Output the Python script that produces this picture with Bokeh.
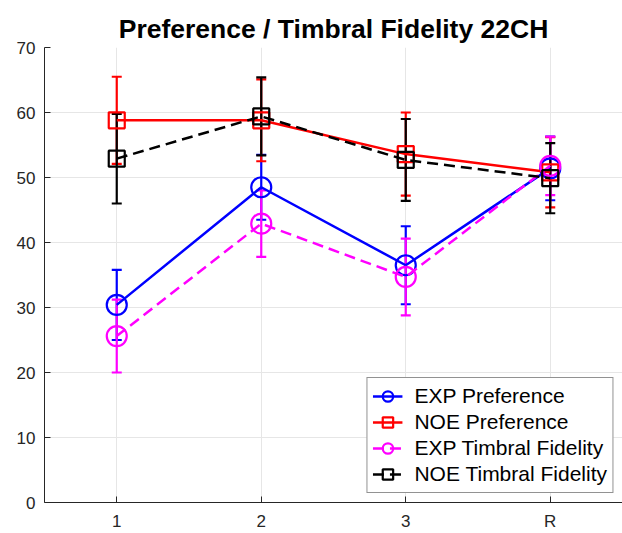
from bokeh.plotting import figure
from bokeh.models import ColumnDataSource, Whisker, TeeHead, FixedTicker, Legend, LegendItem, Range1d
from bokeh.embed import file_html
from bokeh.resources import INLINE

conditions = ["1", "2", "3", "R"]
x_pos = [1, 2, 3, 4]

exp_pref = [30.4, 48.5, 36.5, 51.4]
exp_pref_err = [5.4, 5.0, 6.0, 4.9]
noe_pref = [58.8, 58.8, 53.6, 50.8]
noe_pref_err = [6.7, 6.3, 6.4, 5.4]
exp_timb = [25.6, 42.9, 34.7, 51.8]
exp_timb_err = [5.6, 5.1, 5.9, 4.5]
noe_timb = [52.9, 59.4, 52.7, 49.9]
noe_timb_err = [6.9, 6.0, 6.3, 5.4]

FONT = "Liberation Sans"
AX = "#262626"

p = figure(width=622, height=533, output_backend="svg", toolbar_location=None,
           x_range=Range1d(0.5, 4.5), y_range=Range1d(0, 70),
           min_border_left=44, min_border_right=0, min_border_top=47, min_border_bottom=30)
p.title.text = "Preference / Timbral Fidelity 22CH"
p.title.align = "center"
p.title.text_font = FONT
p.title.text_font_size = "26.5px"
p.title.text_font_style = "bold"
p.title.text_color = "black"
p.title.standoff = 8

p.xaxis.ticker = FixedTicker(ticks=x_pos)
p.xaxis.major_label_overrides = {x: c for x, c in zip(x_pos, conditions)}
p.yaxis.ticker = FixedTicker(ticks=list(range(0, 71, 10)))
for ax in (p.xaxis, p.yaxis):
    ax.major_tick_in = 6
    ax.major_tick_out = 0
    ax.minor_tick_in = 0
    ax.minor_tick_out = 0
    ax.axis_line_color = AX
    ax.major_tick_line_color = AX
    ax.major_label_text_font = FONT
    ax.major_label_text_font_size = "17px"
    ax.major_label_text_color = AX
    ax.major_label_standoff = 9
p.outline_line_color = None
p.grid.grid_line_color = "#e6e6e6"
p.grid.grid_line_width = 1

series = [
    (exp_pref, exp_pref_err, "blue", "solid", "circle", "EXP Preference"),
    (noe_pref, noe_pref_err, "red", "solid", "square", "NOE Preference"),
    (exp_timb, exp_timb_err, "magenta", "dashed", "circle", "EXP Timbral Fidelity"),
    (noe_timb, noe_timb_err, "black", "dashed", "square", "NOE Timbral Fidelity"),
]

items = []
for vals, errs, color, dash, marker, label in series:
    src = ColumnDataSource(dict(x=x_pos, y=vals,
                                lo=[v - e for v, e in zip(vals, errs)],
                                hi=[v + e for v, e in zip(vals, errs)]))
    w = Whisker(source=src, base="x", upper="hi", lower="lo",
                line_color=color, line_width=2.2,
                upper_head=TeeHead(size=10, line_color=color, line_width=2.2),
                lower_head=TeeHead(size=10, line_color=color, line_width=2.2))
    p.add_layout(w)
    r1 = p.line("x", "y", source=src, line_color=color, line_width=2.5,
                line_dash="11 6" if dash == "dashed" else "solid")
    size = 20 if marker == "circle" else 16
    r2 = p.scatter("x", "y", source=src, marker=marker, size=size,
                   fill_color=None, line_color=color, line_width=2.2)
    items.append(LegendItem(label=label, renderers=[r1, r2]))

legend = Legend(items=items, location="bottom_right")
legend.label_text_font = FONT
legend.label_text_font_size = "21px"
legend.label_text_color = "black"
legend.glyph_width = 30
legend.glyph_height = 26
legend.label_height = 26
legend.label_standoff = 12
legend.spacing = 0
legend.padding = 5
legend.margin = 9
legend.border_line_color = AX
legend.border_line_width = 1
legend.background_fill_alpha = 1
p.add_layout(legend)

open("out.html", "w").write(file_html(p, INLINE))
